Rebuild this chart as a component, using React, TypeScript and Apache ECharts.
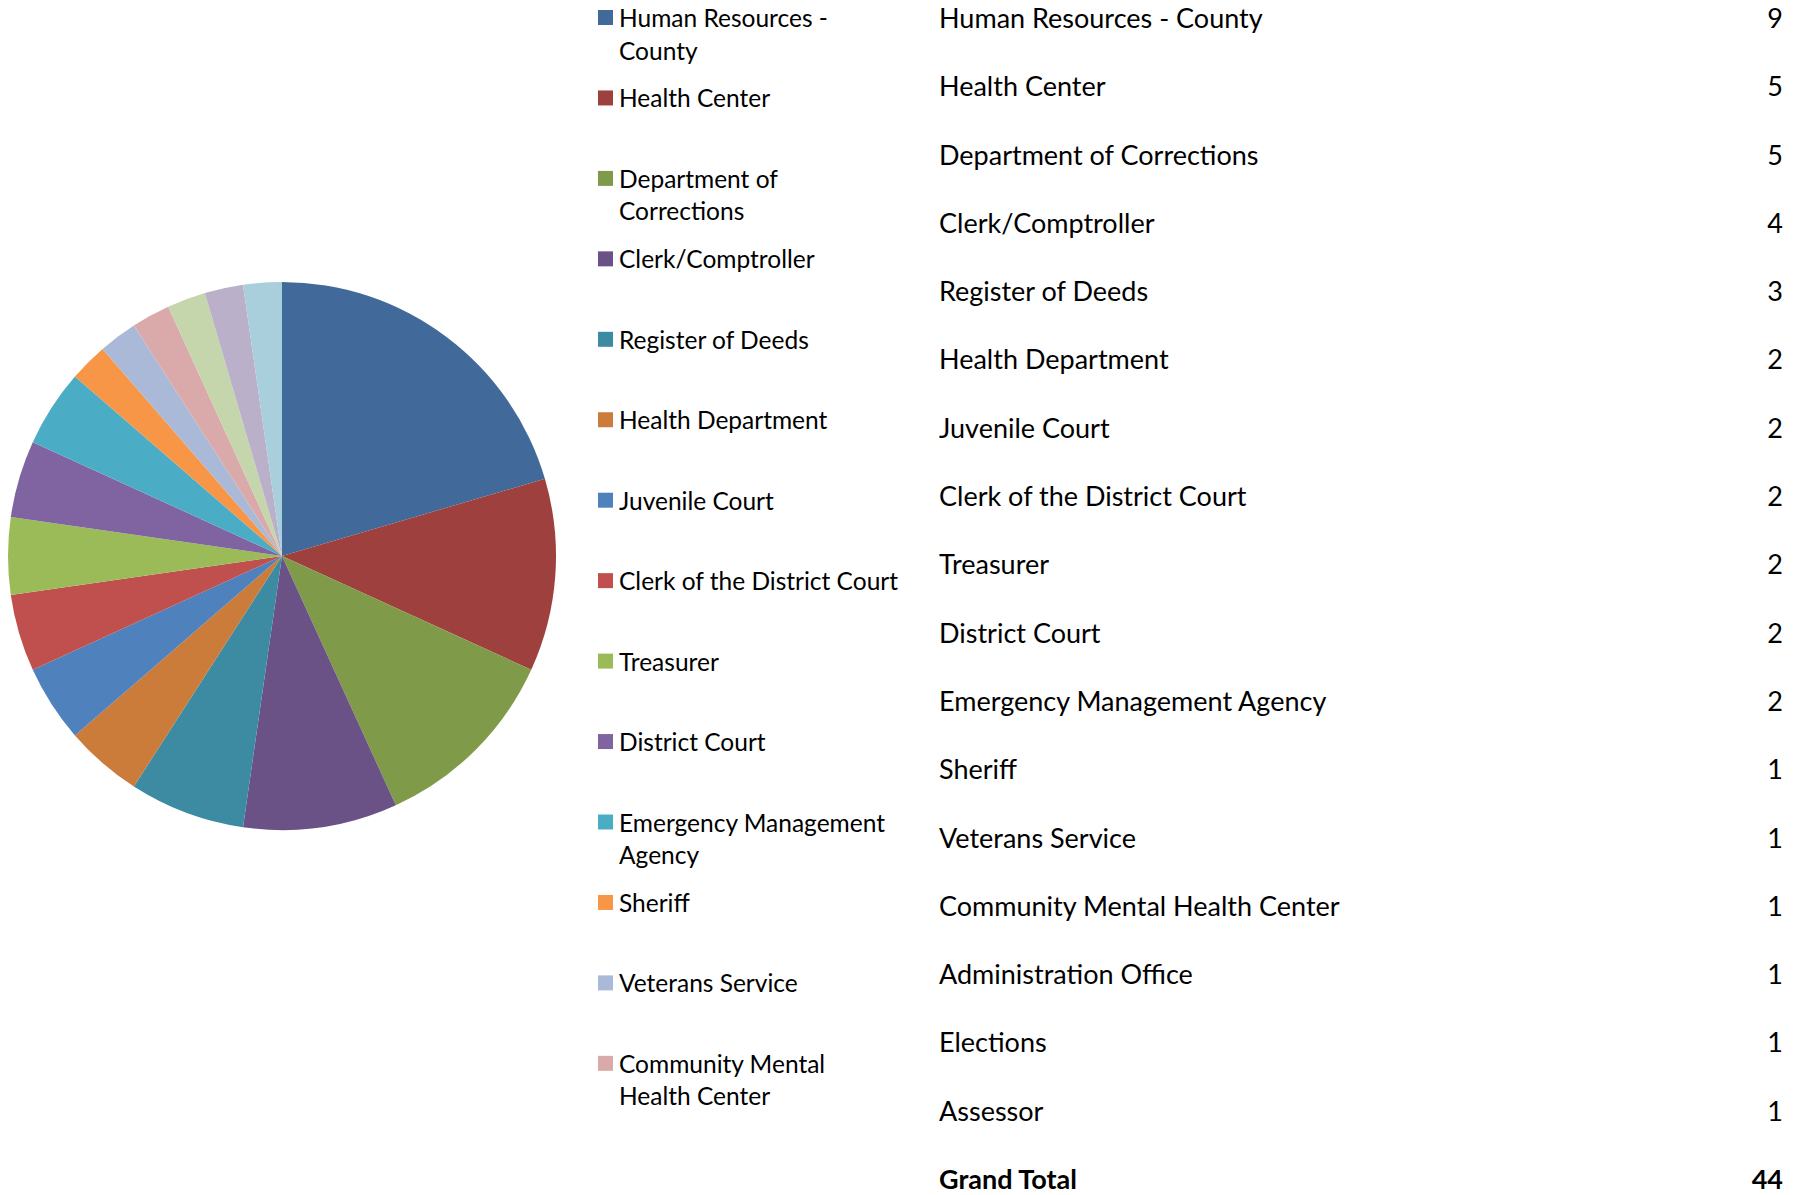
import React, { useEffect, useRef } from "react";
import * as echarts from "echarts";

const categories = [
  "Human Resources - County",
  "Health Center",
  "Department of Corrections",
  "Clerk/Comptroller",
  "Register of Deeds",
  "Health Department",
  "Juvenile Court",
  "Clerk of the District Court",
  "Treasurer",
  "District Court",
  "Emergency Management Agency",
  "Sheriff",
  "Veterans Service",
  "Community Mental Health Center",
  "Administration Office",
  "Elections",
  "Assessor",
];
const counts = [9, 5, 5, 4, 3, 2, 2, 2, 2, 2, 2, 1, 1, 1, 1, 1, 1];
const colors = [
  "#416A9B", "#9D403E", "#7F9A48", "#6A5186", "#3C8BA2", "#CB7B3A",
  "#4F81BD", "#C0504D", "#9BBB59", "#8064A2", "#4BACC6", "#F79646",
  "#AAB9D7", "#D9AAA9", "#C6D6AC", "#BAB0C9", "#A9CEDC",
];
const legendLabels = [
  "Human Resources -\nCounty",
  "Health Center",
  "Department of\nCorrections",
  "Clerk/Comptroller",
  "Register of Deeds",
  "Health Department",
  "Juvenile Court",
  "Clerk of the District Court",
  "Treasurer",
  "District Court",
  "Emergency Management\nAgency",
  "Sheriff",
  "Veterans Service",
  "Community Mental\nHealth Center",
];
const totalLabel = "Grand Total";
const totalValue = 44;

const FONT = "Lato, 'Open Sans', sans-serif";

export default function App() {
  const ref = useRef<HTMLDivElement>(null);
  useEffect(() => {
    document.body.style.margin = "0";
    if (!ref.current) return;
    const chart = echarts.init(ref.current, null, { renderer: "svg" });
    const tableNames = [...categories, totalLabel];
    const tableValues = [...counts.map(String), String(totalValue)];
    const legendNames = categories.slice(0, legendLabels.length);
    const LH = 32.6;
    chart.setOption({
      animation: false,
      backgroundColor: "#ffffff",
      color: colors,
      legend: {
        orient: "vertical",
        left: 598,
        top: 17.5 - (3 * LH) / 2,
        padding: 0,
        itemWidth: 15,
        itemHeight: 15,
        itemGap: 80.45 - 3 * LH,
        icon: "rect",
        selectedMode: false,
        data: legendNames,
        formatter: (name: string) => {
          const i = legendNames.indexOf(name);
          const lab = legendLabels[i];
          return lab.indexOf("\n") >= 0 ? "\n" + lab : "\n" + lab + "\n";
        },
        textStyle: {
          fontFamily: FONT,
          fontSize: 24.5,
          color: "#000",
          lineHeight: LH,
          padding: [0, 0, 0, 1],
          backgroundColor: "rgba(255,255,255,0)",
        },
      },
      grid: { left: 939, right: 19, top: 17.5, bottom: 16.5, containLabel: false },
      xAxis: { type: "value", show: false },
      yAxis: [
        {
          type: "category",
          data: tableNames,
          inverse: true,
          boundaryGap: false,
          position: "left",
          axisLine: { show: false },
          axisTick: { show: false },
          splitLine: { show: false },
          axisLabel: {
            interval: 0,
            align: "left",
            margin: 0,
            fontFamily: FONT,
            fontSize: 27,
            lineHeight: 22,
            color: "#000",
            formatter: (v: string, i: number) =>
              i === tableNames.length - 1 ? "{b|" + v + "}" : v,
            rich: {
              b: { fontWeight: "bold", fontFamily: FONT, fontSize: 27, lineHeight: 22, color: "#000" },
            },
          },
        },
        {
          type: "category",
          data: tableNames,
          inverse: true,
          boundaryGap: false,
          position: "right",
          axisLine: { show: false },
          axisTick: { show: false },
          splitLine: { show: false },
          axisLabel: {
            interval: 0,
            align: "right",
            margin: 0,
            fontFamily: FONT,
            fontSize: 27,
            lineHeight: 22,
            color: "#000",
            formatter: (_v: string, i: number) =>
              i === tableValues.length - 1 ? "{b|" + tableValues[i] + "}" : tableValues[i],
            rich: {
              b: { fontWeight: "bold", fontFamily: FONT, fontSize: 27, lineHeight: 22, color: "#000" },
            },
          },
        },
      ],
      series: [
        {
          type: "pie",
          center: [282, 556],
          radius: 274,
          startAngle: 90,
          clockwise: true,
          label: { show: false },
          labelLine: { show: false },
          silent: true,
          itemStyle: { borderWidth: 0 },
          data: categories.map((n, i) => ({ name: n, value: counts[i] })),
        },
        { type: "bar", data: [], yAxisIndex: 0, xAxisIndex: 0 },
      ],
    });
    return () => chart.dispose();
  }, []);
  return <div ref={ref} style={{ width: 1802, height: 1195, overflow: "hidden" }} />;
}
